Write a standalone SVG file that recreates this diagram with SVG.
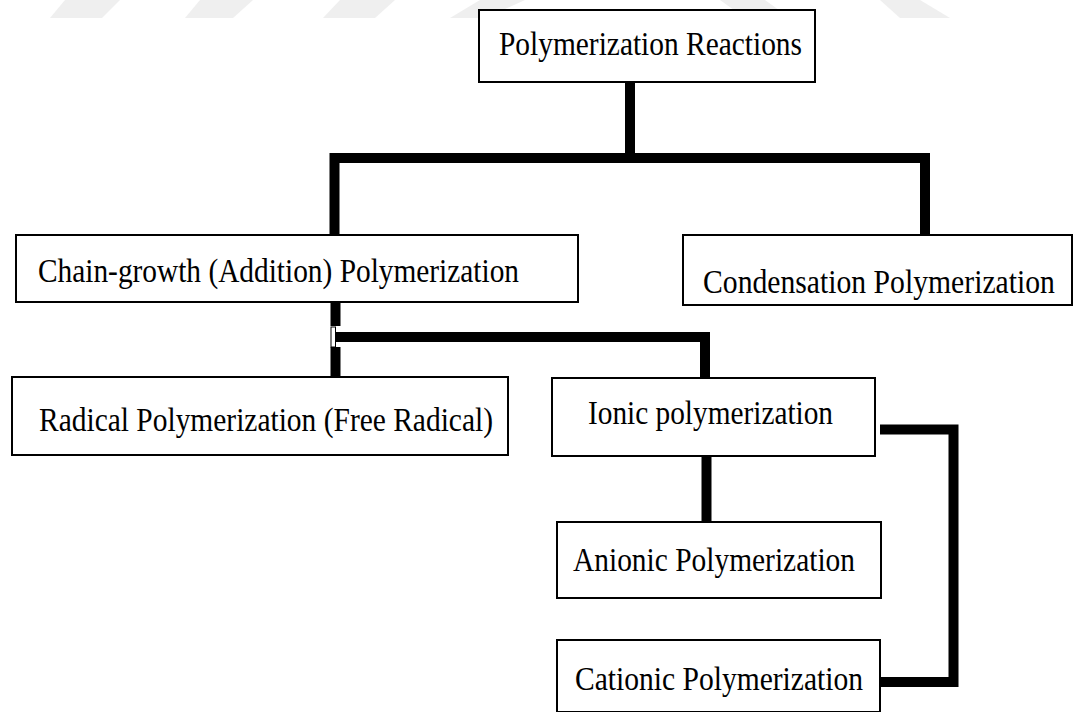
<svg xmlns="http://www.w3.org/2000/svg" width="1084" height="712" viewBox="0 0 1084 712">
<style>
.box{fill:#fff;stroke:#000;stroke-width:2}
.lbl{font-family:"Liberation Serif","Times New Roman","DejaVu Serif",serif;font-size:33px;fill:#000}
.con{fill:none;stroke:#000;stroke-width:10;stroke-linejoin:miter;stroke-linecap:butt}
.wm{fill:#efefef}
</style>
<rect width="1084" height="712" fill="#fff"/>
<g id="watermark">
<polygon class="wm" points="65,0 120,0 102,18 50,18"/>
<polygon class="wm" points="200,0 253,0 233,18 185,18"/>
<polygon class="wm" points="340,0 395,0 375,18 323,18"/>
<polygon class="wm" points="480,0 525,0 485,18 450,18"/>
<polygon class="wm" points="720,0 765,0 790,18 745,18"/>
<polygon class="wm" points="880,0 920,0 950,18 900,18"/>
</g>
<g id="connectors">
<path class="con" d="M630,83 V158"/>
<path class="con" d="M334.5,234 V158 H925 V234"/>
<path class="con" d="M335.5,302 V326"/>
<path class="con" d="M335.5,347 V376"/>
<path class="con" d="M336,337 H705 V378"/>
<rect x="331" y="327" width="4.5" height="20" fill="#fff" stroke="#000" stroke-width="1"/>
<path class="con" d="M706.5,456 V522"/>
<path class="con" d="M880,429.5 H953.5 V682 H880"/>
</g>
<g id="node-polymerization-reactions">
<rect class="box" x="479" y="10" width="336" height="72"/>
<text class="lbl" x="499" y="55" textLength="303" lengthAdjust="spacingAndGlyphs">Polymerization Reactions</text>
</g>
<g id="node-chain-growth">
<rect class="box" x="16" y="235" width="562" height="67"/>
<text class="lbl" x="38" y="282" textLength="481" lengthAdjust="spacingAndGlyphs">Chain-growth (Addition) Polymerization</text>
</g>
<g id="node-condensation">
<rect class="box" x="683" y="235" width="389" height="70"/>
<text class="lbl" transform="translate(703,293) scale(0.9,1)" x="0" y="0" textLength="391" lengthAdjust="spacingAndGlyphs">Condensation Polymerization</text>
</g>
<g id="node-radical">
<rect class="box" x="12" y="377" width="496" height="78"/>
<text class="lbl" x="39" y="431" textLength="454" lengthAdjust="spacingAndGlyphs">Radical Polymerization (Free Radical)</text>
</g>
<g id="node-ionic">
<rect class="box" x="552" y="378" width="323" height="78"/>
<text class="lbl" x="588" y="424" textLength="245" lengthAdjust="spacingAndGlyphs">Ionic polymerization</text>
</g>
<g id="node-anionic">
<rect class="box" x="557" y="522" width="324" height="76"/>
<text class="lbl" x="573" y="571" textLength="282" lengthAdjust="spacingAndGlyphs">Anionic Polymerization</text>
</g>
<g id="node-cationic">
<rect class="box" x="557" y="640" width="323" height="72"/>
<text class="lbl" x="575" y="690" textLength="288" lengthAdjust="spacingAndGlyphs">Cationic Polymerization</text>
</g>
</svg>
